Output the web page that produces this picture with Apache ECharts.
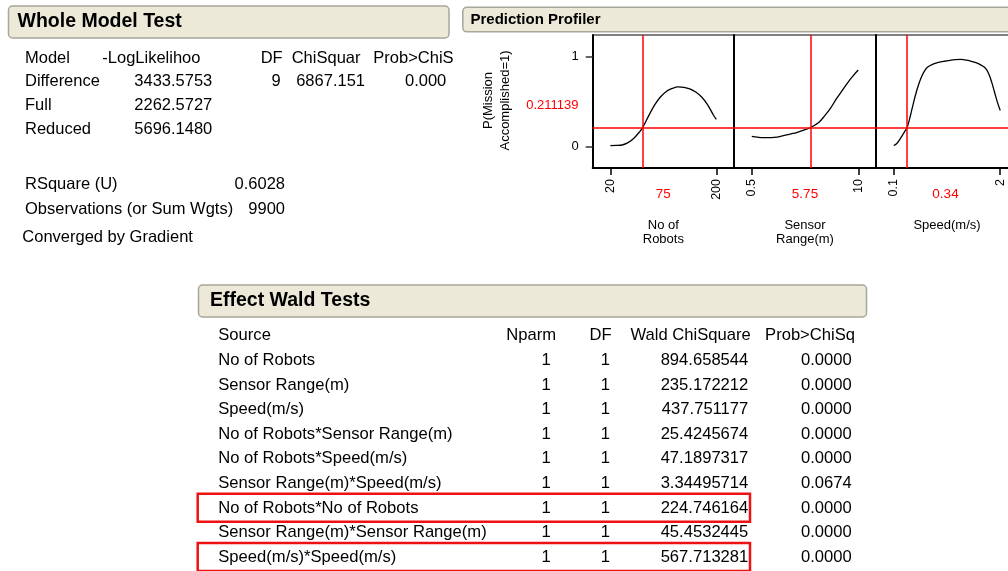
<!DOCTYPE html>
<html>
<head>
<meta charset="utf-8">
<title>Whole Model Test, Prediction Profiler, Effect Wald Tests</title>
<script src="https://cdn.jsdelivr.net/npm/echarts@6/dist/echarts.min.js"></script>
<style>
  html, body { margin: 0; padding: 0; background: #fff; }
  #main { width: 1008px; height: 571px; }
</style>
</head>
<body>
<div id="main"></div>
<script>
// ---- Whole Model Test ----
const wmtHeader = ['Model', '-LogLikelihood', 'DF', 'ChiSquare', 'Prob>ChiSq'];
const wmtModels = ['Difference', 'Full', 'Reduced'];
const wmtLogLik = ['3433.5753', '2262.5727', '5696.1480'];
const wmtDF = ['9', '', ''];
const wmtChiSq = ['6867.151', '', ''];
const wmtProb = ['0.0000', '', ''];
const rsquareU = '0.6028';
const observations = '9900';

// ---- Prediction Profiler ----
const robotsX = [20, 30, 40, 50, 60, 70, 75, 85, 95, 105, 115, 125, 135, 145, 155, 165, 175, 185, 195, 200];
const robotsP = [0.010, 0.011, 0.016, 0.042, 0.092, 0.165, 0.211, 0.34, 0.46, 0.55, 0.612, 0.645, 0.662, 0.658, 0.64, 0.605, 0.55, 0.465, 0.35, 0.30];
const sensorX = [0.5, 1, 1.5, 2, 2.5, 3, 3.5, 4, 4.5, 5, 5.75, 6.5, 7, 7.5, 8, 8.5, 9, 9.5, 10];
const sensorP = [0.112, 0.103, 0.097, 0.097, 0.101, 0.11, 0.125, 0.14, 0.155, 0.175, 0.211, 0.27, 0.34, 0.42, 0.52, 0.61, 0.70, 0.78, 0.85];
const speedX = [0.1, 0.15, 0.2, 0.25, 0.3, 0.34, 0.4, 0.45, 0.5, 0.55, 0.6, 0.65, 0.7, 0.8, 0.9, 1.0, 1.1, 1.2, 1.3, 1.4, 1.5, 1.6, 1.7, 1.75, 1.8, 1.85, 1.9, 1.95, 2.0];
const speedP = [0.01, 0.03, 0.07, 0.12, 0.17, 0.211, 0.35, 0.48, 0.6, 0.70, 0.78, 0.84, 0.88, 0.915, 0.935, 0.948, 0.958, 0.965, 0.968, 0.96, 0.945, 0.925, 0.89, 0.86, 0.80, 0.71, 0.60, 0.49, 0.40];
const factorNames = ['No of\nRobots', 'Sensor\nRange(m)', 'Speed(m/s)'];
const factorTicks = [[20, 200], [0.5, 10], [0.1, 2]];
const currentX = [75, 5.75, 0.34];
const currentXLabels = ['75', '5.75', '0.34'];
const currentP = 0.211139;
const responseName = 'P(Mission\nAccomplished=1)';
const responseTicks = [0, 1];

// ---- Effect Wald Tests ----
const waldHeader = ['Source', 'Nparm', 'DF', 'Wald ChiSquare', 'Prob>ChiSq'];
const waldSource = ['No of Robots', 'Sensor Range(m)', 'Speed(m/s)', 'No of Robots*Sensor Range(m)',
  'No of Robots*Speed(m/s)', 'Sensor Range(m)*Speed(m/s)', 'No of Robots*No of Robots',
  'Sensor Range(m)*Sensor Range(m)', 'Speed(m/s)*Speed(m/s)'];
const waldNparm = [1, 1, 1, 1, 1, 1, 1, 1, 1];
const waldDF = [1, 1, 1, 1, 1, 1, 1, 1, 1];
const waldChiSq = ['894.658544', '235.172212', '437.751177', '25.4245674', '47.1897317',
  '3.34495714', '224.746164', '45.4532445', '567.713281'];
const waldProb = ['0.0000', '0.0000', '0.0000', '0.0000', '0.0000', '0.0674', '0.0000', '0.0000', '0.0000'];
const waldHighlight = [6, 8];

const FONT = '"Liberation Sans", Arial, Helvetica, sans-serif';
const RED = '#ff0000';

function txt(x, y, text, o) {
    o = o || {};
    let style = {
        text: String(text),
        fill: o.color || '#000',
        fontSize: o.size || 16.5,
        fontFamily: FONT,
        fontWeight: o.bold ? 'bold' : 'normal',
        align: o.align || 'left',
        verticalAlign: 'middle'
    };
    if (o.width) {  // clipped cell, like the JMP report
        style.width = o.width;
        style.overflow = 'truncate';
        style.ellipsis = '';
    }
    if (o.lineHeight) style.lineHeight = o.lineHeight;
    return { type: 'text', x: x, y: y, rotation: o.rotation || 0, silent: true, style: style };
}

function headerBox(x, y, w, h, title, tx, size) {
    return [
        {
            type: 'rect', silent: true,
            shape: { x: x, y: y, width: w, height: h, r: 4 },
            style: { fill: '#ECE9D8', stroke: '#a8a69a', lineWidth: 1.5 }
        },
        txt(tx, y + h / 2, title, { bold: true, size: size })
    ];
}

let graphics = [];

// Whole Model Test block
graphics.push(...headerBox(8.5, 6, 440.5, 32, 'Whole Model Test', 17.5, 19.5));
const wmtY = i => 58.3 + 23.6 * i;
graphics.push(txt(25, wmtY(0), wmtHeader[0]));
graphics.push(txt(102.3, wmtY(0), wmtHeader[1], { width: 104 }));
graphics.push(txt(282.7, wmtY(0), wmtHeader[2], { align: 'right' }));
graphics.push(txt(291.7, wmtY(0), wmtHeader[3], { width: 74 }));
graphics.push(txt(373.3, wmtY(0), wmtHeader[4], { width: 84 }));
wmtModels.forEach((m, i) => {
    let y = wmtY(i + 1);
    graphics.push(txt(25, y, m));
    graphics.push(txt(212.3, y, wmtLogLik[i], { align: 'right' }));
    if (wmtDF[i]) graphics.push(txt(280.7, y, wmtDF[i], { align: 'right' }));
    if (wmtChiSq[i]) graphics.push(txt(365, y, wmtChiSq[i], { align: 'right' }));
    if (wmtProb[i]) graphics.push(txt(405, y, wmtProb[i], { width: 45 }));
});
graphics.push(txt(25, 184.3, 'RSquare (U)'));
graphics.push(txt(285, 184.3, rsquareU, { align: 'right' }));
graphics.push(txt(25, 209.3, 'Observations (or Sum Wgts)'));
graphics.push(txt(285, 209.3, observations, { align: 'right' }));
graphics.push(txt(22.3, 237.7, 'Converged by Gradient'));

// Prediction Profiler header and labels
graphics.push(...headerBox(462.8, 7.3, 560, 24.5, 'Prediction Profiler', 470.5, 15));
graphics.push(txt(496.7, 100.5, responseName, { rotation: Math.PI / 2, align: 'center', size: 13, lineHeight: 16.5 }));
graphics.push(txt(578.5, 105, String(currentP), { align: 'right', size: 13, color: RED }));

// Effect Wald Tests block
graphics.push(...headerBox(198.5, 285, 668, 32, 'Effect Wald Tests', 210, 19.5));
const waldY = i => 335.7 + 24.62 * i;
graphics.push(txt(218.3, waldY(0), waldHeader[0], { size: 16.6 }));
graphics.push(txt(556, waldY(0), waldHeader[1], { size: 16.6, align: 'right' }));
graphics.push(txt(611.7, waldY(0), waldHeader[2], { size: 16.6, align: 'right' }));
graphics.push(txt(750.7, waldY(0), waldHeader[3], { size: 16.6, align: 'right' }));
graphics.push(txt(855, waldY(0), waldHeader[4], { size: 16.6, align: 'right' }));
waldSource.forEach((s, i) => {
    let y = waldY(i + 1);
    graphics.push(txt(218.3, y, s, { size: 16.6 }));
    graphics.push(txt(550.7, y, waldNparm[i], { size: 16.6, align: 'right' }));
    graphics.push(txt(610, y, waldDF[i], { size: 16.6, align: 'right' }));
    graphics.push(txt(748.3, y, waldChiSq[i], { size: 16.6, align: 'right' }));
    graphics.push(txt(851.7, y, waldProb[i], { size: 16.6, align: 'right' }));
});
waldHighlight.forEach(i => {
    let y = waldY(i + 1);
    graphics.push({
        type: 'rect', silent: true, z: 10,
        shape: { x: 197.7, y: y - 14.3, width: 552.3, height: 28 },
        style: { fill: 'none', stroke: '#ee1111', lineWidth: 2.5 }
    });
});

// profiler panels (grid layout)
const panels = [
    { left: 592.7, width: 141.3, min: -10, max: 230 },
    { left: 734, width: 142, min: -1.0833, max: 11.5833 },
    { left: 876, width: 142, min: -0.2167, max: 2.3167 }
];
const curves = [[robotsX, robotsP], [sensorX, sensorP], [speedX, speedP]];

panels.forEach((p, i) => {
    graphics.push(txt(p.left + p.width / 2 + (i === 2 ? -1.5 : 0), 194.5, currentXLabels[i], { align: 'center', size: 13.5, color: RED }));
});

const redLine = { color: RED, width: 1.5, type: 'solid', opacity: 1 };

let myChart = echarts.init(document.getElementById('main'), null, { renderer: 'canvas' });
let option = {
    animation: false,
    backgroundColor: '#fff',
    textStyle: { fontFamily: FONT },
    grid: panels.map(p => ({
        left: p.left, width: p.width, top: 35, height: 133,
        show: true, borderColor: '#000', borderWidth: 1, backgroundColor: 'transparent',
        outerBoundsMode: 'none'
    })),
    xAxis: panels.map((p, i) => ({
        gridIndex: i, type: 'value', min: p.min, max: p.max,
        axisLine: { onZero: false, lineStyle: { color: '#000', width: 2 } },
        axisTick: { customValues: factorTicks[i], length: 7, lineStyle: { color: '#000', width: 1.5 } },
        axisLabel: {
            customValues: factorTicks[i], rotate: 90, margin: 11, fontSize: 12.5,
            color: '#000', fontFamily: FONT, padding: [0, 0, 8, 0]
        },
        splitLine: { show: false },
        name: factorNames[i], nameLocation: 'middle', nameGap: 50, nameMoveOverlap: false,
        nameTextStyle: { fontSize: 13, lineHeight: 14.5, color: '#000', fontFamily: FONT }
    })),
    yAxis: panels.map((p, i) => ({
        gridIndex: i, type: 'value', min: -0.24, max: 1.24,
        axisLine: { show: true, onZero: false, lineStyle: { color: '#000', width: 2 } },
        axisTick: { show: i === 0, customValues: responseTicks, length: 7, lineStyle: { color: '#333', width: 1.5 } },
        axisLabel: { show: i === 0, customValues: responseTicks, margin: 14, fontSize: 13, color: '#000', fontFamily: FONT },
        splitLine: { show: false }
    })),
    series: curves.map((c, i) => ({
        type: 'line',
        xAxisIndex: i, yAxisIndex: i,
        data: c[0].map((x, k) => [x, c[1][k]]),
        symbol: 'none', smooth: 0.35,
        lineStyle: { color: '#000', width: 1.3 },
        z: 3,
        markLine: {
            silent: true, symbol: ['none', 'none'],
            label: { show: false },
            lineStyle: redLine,
            emphasis: { disabled: true },
            data: [
                { xAxis: currentX[i], lineStyle: redLine },
                { yAxis: currentP, lineStyle: redLine }
            ]
        }
    })),
    graphic: graphics
};
myChart.setOption(option);
</script>
</body>
</html>
